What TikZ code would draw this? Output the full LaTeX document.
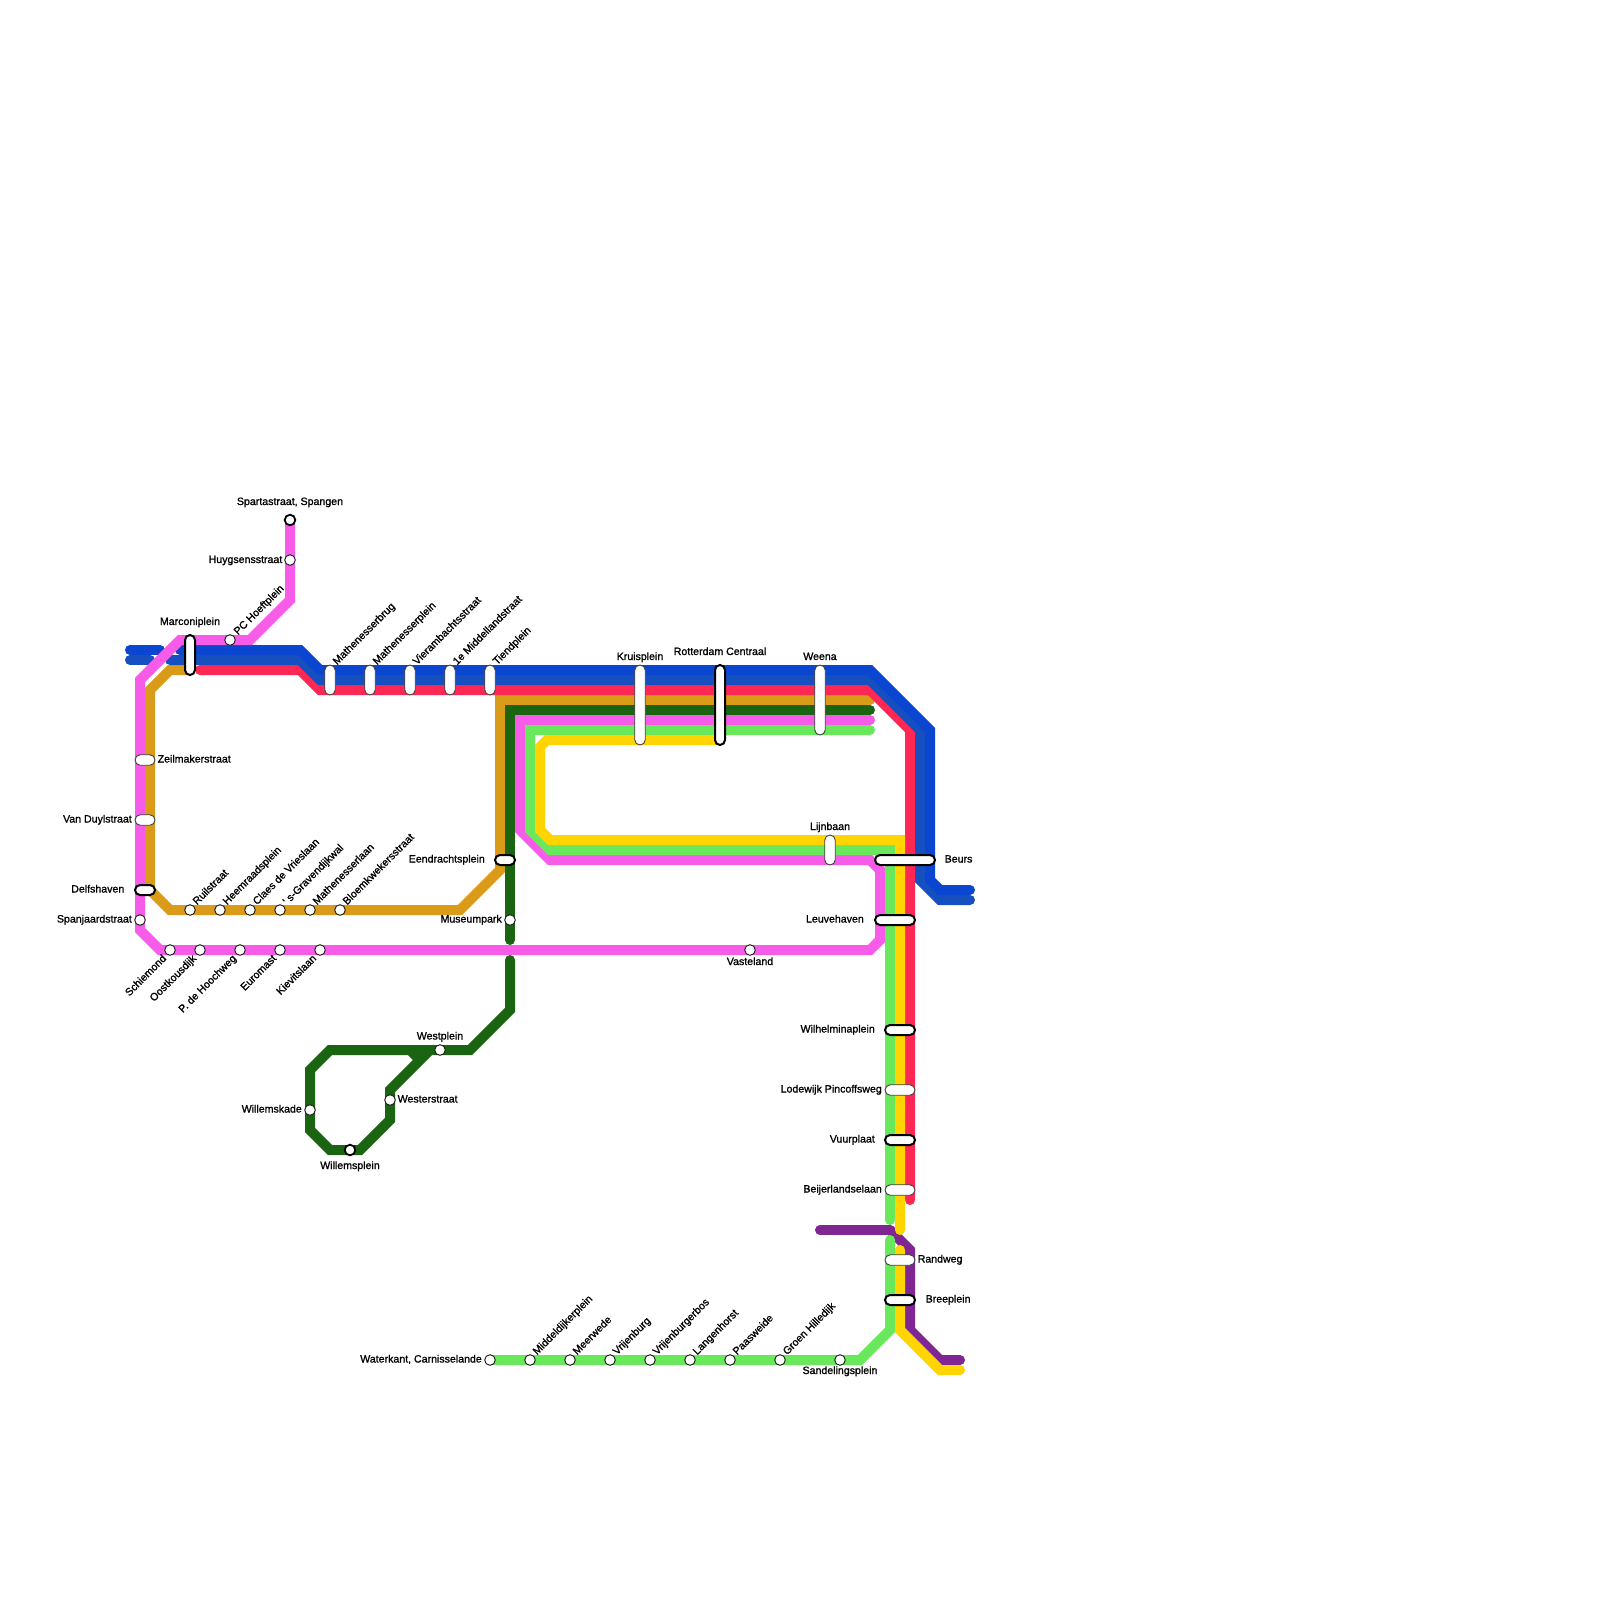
\documentclass[tikz,border=0pt]{standalone}
\usepackage{fontspec}
\newfontfamily\lblfont[FakeBold=1.2]{Liberation Sans}
\definecolor{lineblue}{RGB}{11,70,208}
\definecolor{lineblueb}{RGB}{22,80,192}
\definecolor{linered}{RGB}{255,40,84}
\definecolor{linegold}{RGB}{218,155,24}
\definecolor{linedark}{RGB}{27,100,17}
\definecolor{linepink}{RGB}{246,92,232}
\definecolor{linegreen}{RGB}{106,232,92}
\definecolor{lineyellow}{RGB}{255,212,0}
\definecolor{linepurple}{RGB}{128,38,146}
\tikzset{
	metro/.style={line width=10pt,line cap=round,miter limit=10},
	stn/.style={circle,draw=black!90,fill=white,line width=0.9pt,minimum size=10.6pt,inner sep=0pt},
	hub/.style={circle,draw=black,fill=white,line width=1.8pt,minimum size=10.6pt,inner sep=0pt},
	capthin/.style={rectangle,rounded corners=5.25pt,draw=black!75,fill=white,line width=0.9pt,minimum height=10.5pt,inner sep=0pt},
	capthick/.style={rectangle,rounded corners=5pt,draw=black,fill=white,line width=2pt,minimum height=10pt,inner sep=0pt},
	lbl/.style={font=\lblfont\fontsize{10.6}{12}\selectfont,inner sep=0pt,text=black},
	lblup/.style={lbl,rotate=45,anchor=base west},
	lbldown/.style={lbl,rotate=45,anchor=base east}
}
\begin{document}
\begin{tikzpicture}[x=1pt,y=-1pt]
	\useasboundingbox (0,0) rectangle (1600,1600);

	% gold and dark green run under the others
	\draw[metro,linegold] (190,670) -- (170,670) -- (150,690) -- (150,890) -- (170,910) -- (460,910) -- (500,870) -- (500,700) -- (870,700);
	\draw[metro,linedark] (870,710) -- (510,710) -- (510,940);
	\draw[metro,linedark] (510,960) -- (510,1010) -- (470,1050) -- (330,1050) -- (310,1070) -- (310,1130) -- (330,1150) -- (360,1150) -- (390,1120) -- (390,1090) -- (430,1050) (420,1060) -- (410,1050);

	% red and the two blue lines
	\draw[metro,linered] (200,670) -- (300,670) -- (320,690) -- (870,690) -- (910,730) -- (910,1200);
	\draw[metro,lineblueb] (130,660) -- (150,660);
	\draw[metro,lineblueb] (170,660) -- (300,660) -- (320,680) -- (870,680) -- (920,730) -- (920,880) -- (940,900) -- (970,900);
	\draw[metro,lineblue] (130,650) -- (160,650);
	\draw[metro,lineblue] (180,650) -- (300,650) -- (320,670) -- (870,670) -- (930,730) -- (930,880) -- (940,890) -- (970,890);

	% pink
	\draw[metro,linepink] (290,520) -- (290,600) -- (250,640) -- (180,640) -- (140,680) -- (140,930) -- (160,950) -- (870,950) -- (880,940) -- (880,870) -- (870,860) -- (550,860) -- (520,830) -- (520,720) -- (870,720);

	% purple, then green and yellow on top of it
	\draw[metro,linepurple] (820,1230) -- (890,1230);
	\draw[metro,linepurple] (890,1230) -- (910,1250) -- (910,1330) -- (940,1360) -- (960,1360);
	\draw[metro,linegreen] (870,730) -- (530,730) -- (530,830) -- (550,850) -- (890,850) -- (890,1220);
	\draw[metro,linegreen] (890,1240) -- (890,1330) -- (860,1360) -- (490,1360);
	\draw[metro,lineyellow] (720,740) -- (547,740) -- (540,747) -- (540,830) -- (550,840) -- (900,840) -- (900,1230);
	\draw[metro,lineyellow] (900,1250) -- (900,1330) -- (940,1370) -- (960,1370);

	% stations along the top
	\node[hub] (sparta) at (290,520) {};
	\node[stn] (huygens) at (290,560) {};
	\node[stn] (hoeft) at (230,640) {};
	\node[capthick,rotate=90,minimum width=40pt] (marconi) at (190,655) {};
	\node[capthin,rotate=90,minimum width=30pt] (matbrug) at (330,680) {};
	\node[capthin,rotate=90,minimum width=30pt] (matplein) at (370,680) {};
	\node[capthin,rotate=90,minimum width=30pt] (vier) at (410,680) {};
	\node[capthin,rotate=90,minimum width=30pt] (midland) at (450,680) {};
	\node[capthin,rotate=90,minimum width=30pt] (tiend) at (490,680) {};
	\node[capthin,rotate=90,minimum width=80pt] (kruis) at (640,705) {};
	\node[capthick,rotate=90,minimum width=80pt] (centraal) at (720,705) {};
	\node[capthin,rotate=90,minimum width=70pt] (weena) at (820,700) {};
	\node[capthin,rotate=90,minimum width=30pt] (lijn) at (830,850) {};

	\node[lbl,anchor=base] (spartal) at (290,505) {Spartastraat, Spangen};
	\node[lbl,anchor=base east] (huygensl) at (282.5,563) {Huygsensstraat};
	\node[lblup] (hoeftl) at (238,635.5) {PC Hoeftplein};
	\node[lbl,anchor=base] (marconil) at (190,625) {Marconiplein};
	\node[lblup] (matbrugl) at (337,665.5) {Mathenesserbrug};
	\node[lblup] (matpleinl) at (377,665.5) {Mathenesserplein};
	\node[lblup] (vierl) at (417,665.5) {Vierambachtsstraat};
	\node[lblup] (midlandl) at (457,665.5) {1e Middellandstraat};
	\node[lblup] (tiendl) at (497,665.5) {Tiendplein};
	\node[lbl,anchor=base] (kruisl) at (640,660) {Kruisplein};
	\node[lbl,anchor=base] (centraall) at (720,655) {Rotterdam Centraal};
	\node[lbl,anchor=base] (weenal) at (820,660) {Weena};
	\node[lbl,anchor=base] (lijnl) at (830,830) {Lijnbaan};

	% western side
	\node[capthin,minimum width=20pt] (zeil) at (145,760) {};
	\node[capthin,minimum width=20pt] (duyl) at (145,820) {};
	\node[capthick,minimum width=20pt] (delfs) at (145,890) {};
	\node[stn] (spanj) at (140,920) {};
	\node[lbl,anchor=base west] (zeill) at (157.5,762.5) {Zeilmakerstraat};
	\node[lbl,anchor=base east] (duyll) at (132,822.5) {Van Duylstraat};
	\node[lbl,anchor=base east] (delfsl) at (124.5,892.5) {Delfshaven};
	\node[lbl,anchor=base east] (spanjl) at (132,922.5) {Spanjaardstraat};

	% gold stations
	\node[stn] (ruil) at (190,910) {};
	\node[stn] (heem) at (220,910) {};
	\node[stn] (claes) at (250,910) {};
	\node[stn] (grav) at (280,910) {};
	\node[stn] (matlaan) at (310,910) {};
	\node[stn] (bloem) at (340,910) {};
	\node[lblup] (ruill) at (197,905.5) {Ruilstraat};
	\node[lblup] (heeml) at (227,905.5) {Heemraadsplein};
	\node[lblup] (claesl) at (257,905.5) {Claes de Vrieslaan};
	\node[lblup] (gravl) at (287,905.5) {' s-Gravendijkwal};
	\node[lblup] (matlaanl) at (317,905.5) {Mathenesserlaan};
	\node[lblup] (bloeml) at (347,905.5) {Bloemkwekersstraat};

	% pink stations on the lower stretch
	\node[stn] (schie) at (170,950) {};
	\node[stn] (oost) at (200,950) {};
	\node[stn] (hooch) at (240,950) {};
	\node[stn] (euro) at (280,950) {};
	\node[stn] (kievit) at (320,950) {};
	\node[stn] (vaste) at (750,950) {};
	\node[lbldown] (schiel) at (167,959) {Schiemond};
	\node[lbldown] (oostl) at (197,959) {Oostkousdijk};
	\node[lbldown] (hoochl) at (237,959) {P. de Hoochweg};
	\node[lbldown] (eurol) at (277,959) {Euromast};
	\node[lbldown] (kievitl) at (317,959) {Kievitslaan};
	\node[lbl,anchor=base] (vastel) at (750,965) {Vasteland};

	% dark green loop
	\node[capthick,minimum width=20pt] (eendr) at (505,860) {};
	\node[stn] (museum) at (510,920) {};
	\node[stn] (west) at (440,1050) {};
	\node[stn] (wester) at (390,1100) {};
	\node[stn] (kade) at (310,1110) {};
	\node[hub] (willem) at (350,1150) {};
	\node[lbl,anchor=base east] (eendrl) at (485,862.5) {Eendrachtsplein};
	\node[lbl,anchor=base east] (museuml) at (502,922.5) {Museumpark};
	\node[lbl,anchor=base] (westl) at (440,1039.5) {Westplein};
	\node[lbl,anchor=base west] (westerl) at (397.5,1102.5) {Westerstraat};
	\node[lbl,anchor=base east] (kadel) at (302,1112.5) {Willemskade};
	\node[lbl,anchor=base] (willeml) at (350,1169) {Willemsplein};

	% stations on the eastern trunk
	\node[capthick,minimum width=60pt] (beurs) at (905,860) {};
	\node[capthick,minimum width=40pt] (leuve) at (895,920) {};
	\node[capthick,minimum width=30pt] (wilh) at (900,1030) {};
	\node[capthin,minimum width=30pt] (pinc) at (900,1090) {};
	\node[capthick,minimum width=30pt] (vuur) at (900,1140) {};
	\node[capthin,minimum width=30pt] (beij) at (900,1190) {};
	\node[capthin,minimum width=30pt] (rand) at (900,1260) {};
	\node[capthick,minimum width=30pt] (bree) at (900,1300) {};
	\node[lbl,anchor=base west] (beursl) at (944.5,862.5) {Beurs};
	\node[lbl,anchor=base east] (leuvel) at (864,922.5) {Leuvehaven};
	\node[lbl,anchor=base east] (wilhl) at (875,1032.5) {Wilhelminaplein};
	\node[lbl,anchor=base east] (pincl) at (882,1092.5) {Lodewijk Pincoffsweg};
	\node[lbl,anchor=base east] (vuurl) at (875,1142.5) {Vuurplaat};
	\node[lbl,anchor=base east] (beijl) at (882,1192.5) {Beijerlandselaan};
	\node[lbl,anchor=base west] (randl) at (917.5,1262.5) {Randweg};
	\node[lbl,anchor=base west] (breel) at (925.5,1302.5) {Breeplein};

	% green branch to the south
	\node[stn] (water) at (490,1360) {};
	\node[stn] (midd) at (530,1360) {};
	\node[stn] (meer) at (570,1360) {};
	\node[stn] (vrij) at (610,1360) {};
	\node[stn] (vrijbos) at (650,1360) {};
	\node[stn] (lang) at (690,1360) {};
	\node[stn] (paas) at (730,1360) {};
	\node[stn] (groen) at (780,1360) {};
	\node[stn] (sand) at (840,1360) {};
	\node[lbl,anchor=base east] (waterl) at (482,1362.5) {Waterkant, Carnisselande};
	\node[lblup] (middl) at (537,1355.5) {Middeldijkerplein};
	\node[lblup] (meerl) at (577,1355.5) {Meerwede};
	\node[lblup] (vrijl) at (617,1355.5) {Vrijenburg};
	\node[lblup] (vrijbosl) at (657,1355.5) {Vrijenburgerbos};
	\node[lblup] (langl) at (697,1355.5) {Langenhorst};
	\node[lblup] (paasl) at (737,1355.5) {Paasweide};
	\node[lblup] (groenl) at (787,1355.5) {Groen Hilledijk};
	\node[lbl,anchor=base] (sandl) at (840,1374) {Sandelingsplein};
\end{tikzpicture}
\end{document}
